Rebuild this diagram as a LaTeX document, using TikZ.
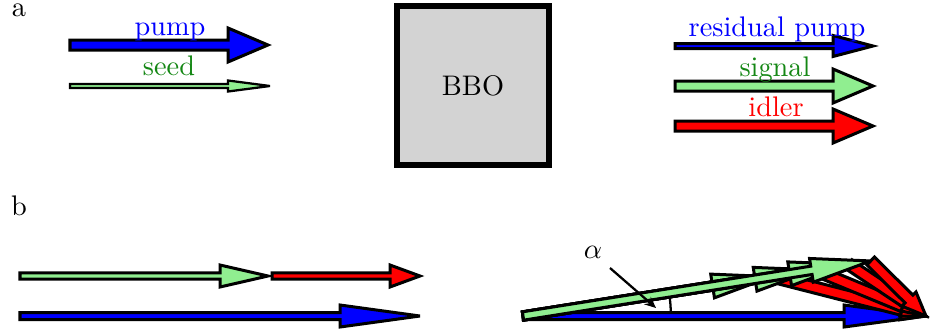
\documentclass[tikz,border=0pt]{standalone}
\usetikzlibrary{calc,arrows.meta}
\definecolor{sig}{RGB}{144,238,144}
\definecolor{txtgreen}{RGB}{20,135,20}
\definecolor{boxgray}{RGB}{211,211,211}
\def\u{0.353pt}
% #2 fill, #3 start, #4 end, #5 shaft half width, #6 head half width, #7 head length (px)
\newcommand\fatarrow[7][]{%
  \draw[fatarr, fill=#2, #1] let \p1=($(#4)-(#3)$), \n1={atan2(\y1,\x1)}, \n2={veclen(\x1,\y1)} in
    [shift={(#3)}, rotate=\n1]
    (0pt,{-#5*\u}) -- ({\n2-#7*\u},{-#5*\u}) -- ({\n2-#7*\u},{-#6*\u}) -- ({\n2+0pt},0pt)
    -- ({\n2-#7*\u},{#6*\u}) -- ({\n2-#7*\u},{#5*\u}) -- (0pt,{#5*\u}) -- cycle;}
\begin{document}
\begin{tikzpicture}[x=0.353pt,y=-0.353pt,
  fatarr/.style={draw=black,line width=1.06pt,line join=miter,miter limit=5},
  lbl/.style={anchor=base,inner sep=0pt}]
\useasboundingbox (0,0) rectangle (943,333);
% ---------------- panel a
\node[lbl] (la) at (19,16) {a};
\coordinate (pa0) at (70,45);  \coordinate (pa1) at (268,45);
\coordinate (sa0) at (70,86);  \coordinate (sa1) at (270,86);
\fatarrow{blue}{pa0}{pa1}{5}{17}{40}
\fatarrow[line width=0.8pt]{sig}{sa0}{sa1}{2}{5.5}{42}
\node[lbl,text=blue] (lpump) at (170,35) {pump};
\node[lbl,text=txtgreen] (lseed) at (169,75) {seed};
\node[draw=black,line width=1.8pt,fill=boxgray,minimum width=152*0.353pt,minimum height=159*0.353pt,inner sep=0pt] (bbo) at (473,85.5) {BBO};
\coordinate (ra0) at (675,46);  \coordinate (ra1) at (873,46);
\coordinate (si0) at (675,86);  \coordinate (si1) at (873,86);
\coordinate (id0) at (675,126); \coordinate (id1) at (873,126);
\fatarrow{blue}{ra0}{ra1}{2.5}{10.5}{40}
\fatarrow{sig}{si0}{si1}{5}{17}{40}
\fatarrow{red}{id0}{id1}{5}{17}{40}
\node[lbl,text=blue] (lres) at (777,36) {residual pump};
\node[lbl,text=txtgreen] (lsig) at (775,76) {signal};
\node[lbl,text=red] (lidl) at (776,116) {idler};
% ---------------- panel b, collinear
\node[lbl] (lb) at (19,215) {b};
\coordinate (bs0) at (20,276);  \coordinate (bs1) at (268,276);
\coordinate (bi0) at (272,276); \coordinate (bi1) at (420,276);
\coordinate (bp0) at (20,316);  \coordinate (bp1) at (420,316);
\fatarrow{sig}{bs0}{bs1}{3.2}{11}{48}
\fatarrow{red}{bi0}{bi1}{3.2}{11}{30}
\fatarrow{blue}{bp0}{bp1}{3.5}{11}{80}
% ---------------- panel b, non-collinear
\coordinate (O) at (523,316);
\coordinate (P) at (926,316);
\draw[line width=0.8pt] (O) ++(52.2pt,0pt) arc[start angle=0,end angle=9,radius=52.2pt];
\fatarrow{blue}{O}{P}{3.5}{11}{82}
\foreach \L [count=\k] in {252,295,330,352}{
  \coordinate (S\k) at ($(O)+({\L*cos(9)},{-\L*sin(9)})$);
  \fatarrow{sig}{O}{S\k}{4.2}{12}{60}
  \fatarrow{red}{S\k}{P}{5.5}{10}{24}
}
\node[inner sep=0pt] (alpha) at (593,252) {$\alpha$};
\coordinate (pt0) at (610,268);
\coordinate (pt1) at (656,308);
\draw[line width=0.8pt,-{Stealth[length=4pt,width=3.5pt]}] (pt0) -- (pt1);
\end{tikzpicture}
\end{document}
